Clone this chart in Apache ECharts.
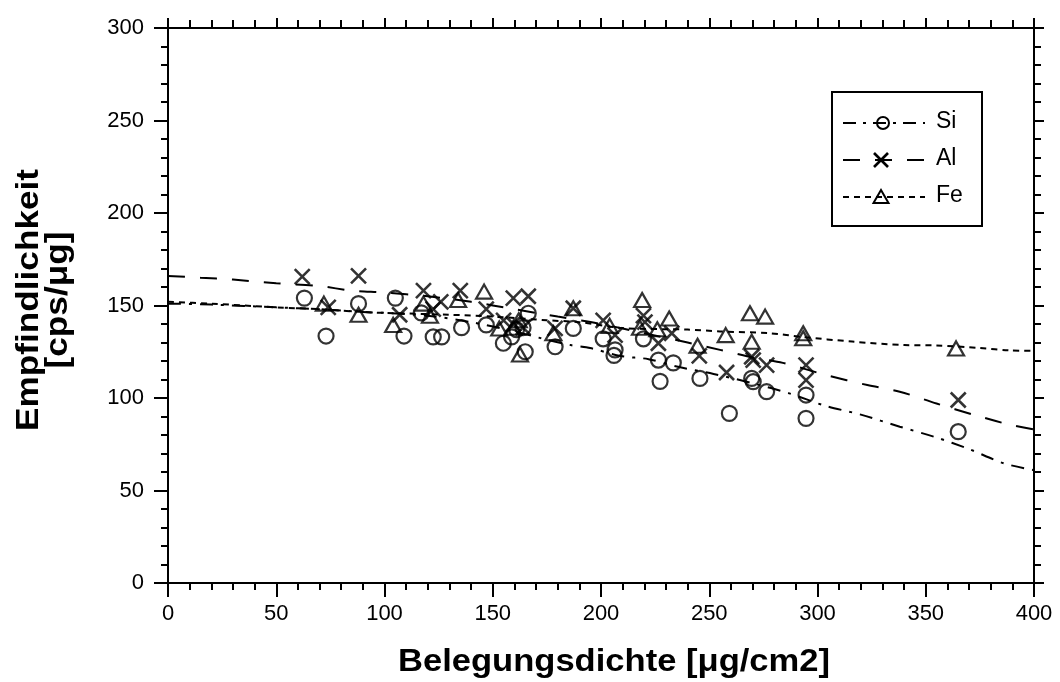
<!DOCTYPE html>
<html>
<head>
<meta charset="utf-8">
<script src="https://cdn.jsdelivr.net/npm/echarts@6/dist/echarts.min.js"></script>
<style>html,body{margin:0;padding:0;background:#fff;}#c{width:1060px;height:682px;}</style>
</head>
<body>
<div id="c"></div>
<script>
// ---- data ----
var xTicks = [0, 50, 100, 150, 200, 250, 300, 350, 400];
var yTicks = [0, 50, 100, 150, 200, 250, 300];

var siPoints = [[63,154],[73,133.5],[88,151],[105,154],[109,133.5],[117,146],[122.5,133],[126.4,133],
  [135.6,138],[147,139.5],[154.9,129.6],[158.7,133],[161,137],[164,138],[165,125],[166.4,145.8],
  [178.8,127.7],[187.2,137.6],[201,132],[206.5,126],[206,123],[219.6,132],[226.5,120.5],[227.3,109],
  [233.4,119],[245.7,110.6],[259.3,91.7],[269.6,110.6],[270.3,108.8],[276.5,103.4],[294.7,101.6],
  [294.7,89],[365,81.8]];
var alPoints = [[62,165.6],[74,149],[88,166],[107,145],[118,158],[122.5,148],[126,152],[135,158],
  [147,148],[155,142],[159.5,154],[159.5,140],[164,138],[166.4,155],[178.8,137.6],[187.2,148.5],
  [201,142],[206.5,134],[219.6,144.5],[220.3,141],[226.5,129.6],[232.7,135],[245.4,122.8],
  [258,113.8],[269.6,122.3],[270.3,120.5],[276.5,117.8],[294.7,117.8],[294.7,109.7],[365,98.9]];
var fePoints = [[72,151],[88,145],[104,139.5],[118,151],[121,144.5],[134,153],[146,157.5],
  [153,137.6],[159.5,138],[162,142],[162.6,123.5],[178,135],[187.2,148.5],[204,139],
  [219,153],[218,138],[226,137.2],[231.5,143],[244.6,128.2],[257.6,134],[268.8,145.8],
  [275.8,144],[269.6,130.4],[293.4,135],[293.4,132.3],[364,126.8]];

// fitted curves as they appear in the reference
var siFit = [[0,151],[20,150.5],[50,149],[70,148],[90,146.5],[100,146],[120,144.5],[140,141],
  [160,136],[172,132.4],[186,128.6],[195,127],[209,122.7],[222,121],[235,117],[252,113],
  [270,108],[287,102.5],[303,96],[320,91],[338,84.5],[354,79],[370,72.4],[386,64.7],[400,61]];
var alFit = [[0,166],[15,165],[30,164],[50,162],[70,160.5],[85,158],[100,157],[120,155],
  [140,152],[160,148],[180,144],[200,140],[220,135],[240,130],[255,126],[270,122],[284,119],
  [304,112.4],[323,107],[338,103.4],[355,97],[372,91],[389,85.5],[400,83]];
var feFit = [[0,152],[20,151],[50,149],[70,148],[90,146.5],[100,146],[130,145],[150,144],
  [175,142],[190,141],[210,137.8],[240,137],[255,136],[278,135],[293,133],[316,130.5],
  [340,128.6],[355,128.4],[375,127],[389,125.7],[400,125.5]];

var legendNames = ['Si', 'Al', 'Fe'];
var xTitle = 'Belegungsdichte [\u03bcg/cm2]';
var yTitleLines = ['Empfindlichkeit', '[cps/\u03bcg]'];

var FONT = '"Liberation Sans", Arial, sans-serif';
var xPath = 'path://M0,0L10,10M10,0L0,10';
var triPath = 'path://M5,0L10,9L0,9Z';

function baseAxis(pos, showLabel, isX) {
  return {
    type: 'value', position: pos, min: 0, max: isX ? 400 : 300, interval: 50,
    axisLine: { show: true, onZero: false, lineStyle: { color: '#000', width: 2 } },
    axisTick: { show: true, inside: false, length: 14, lineStyle: { color: '#000', width: 2 } },
    minorTick: { show: true, splitNumber: 5, length: 7, lineStyle: { color: '#000', width: 2 } },
    splitLine: { show: false },
    axisLabel: { show: showLabel, color: '#000', fontSize: 22, fontFamily: FONT, margin: 20 }
  };
}

var xBottom = baseAxis('bottom', true, true);
var xTop = baseAxis('top', false, true);
xTop.axisTick.length = 10; xTop.minorTick.length = 8;
var yLeft = baseAxis('left', true, false);
yLeft.axisLabel.margin = 24;
var yRight = baseAxis('right', false, false);
yRight.axisTick.length = 10; yRight.minorTick.length = 7;

var chart = echarts.init(document.getElementById('c'), null, { renderer: 'canvas' });

var lineStyleBase = { color: '#000', width: 2 };
var titleFont = 'bold 32px ' + FONT;
var option = {
  backgroundColor: '#fff',
  animation: false,
  grid: { left: 168, right: 26, top: 28, bottom: 99 },
  xAxis: [xBottom, xTop],
  yAxis: [yLeft, yRight],
  series: [
    { name: 'SiFit', type: 'line', data: siFit, showSymbol: false, smooth: 0.3,
      lineStyle: Object.assign({}, lineStyleBase, { type: [13, 8, 3, 8] }) },
    { name: 'AlFit', type: 'line', data: alFit, showSymbol: false, smooth: 0.3,
      lineStyle: Object.assign({}, lineStyleBase, { type: [17, 15] }) },
    { name: 'FeFit', type: 'line', data: feFit, showSymbol: false, smooth: 0.3,
      lineStyle: Object.assign({}, lineStyleBase, { type: [6, 5] }) },
    { name: legendNames[0], type: 'scatter', data: siPoints, symbol: 'circle', symbolSize: 15,
      itemStyle: { color: 'rgba(0,0,0,0)', borderColor: '#000', borderWidth: 2.2 } },
    { name: legendNames[1], type: 'scatter', data: alPoints, symbol: xPath, symbolSize: 15,
      itemStyle: { color: 'rgba(0,0,0,0)', borderColor: '#000', borderWidth: 2.6 } },
    { name: legendNames[2], type: 'scatter', data: fePoints, symbol: triPath, symbolSize: [16, 14],
      itemStyle: { color: 'rgba(0,0,0,0)', borderColor: '#000', borderWidth: 2.2 } }
  ],
  graphic: [
    // axis titles (slightly widened to match reference lettering)
    { type: 'text', x: 614, y: 662, scaleX: 1.08, scaleY: 1,
      style: { text: xTitle, font: titleFont, fill: '#000', textAlign: 'center', textVerticalAlign: 'middle' } },
    { type: 'text', x: 29, y: 300, rotation: Math.PI / 2, scaleX: 1.1, scaleY: 1,
      style: { text: yTitleLines[0], font: titleFont, fill: '#000', textAlign: 'center', textVerticalAlign: 'middle' } },
    { type: 'text', x: 58, y: 300, rotation: Math.PI / 2, scaleX: 1.1, scaleY: 1,
      style: { text: yTitleLines[1], font: titleFont, fill: '#000', textAlign: 'center', textVerticalAlign: 'middle' } },
    // legend
    { type: 'rect', shape: { x: 832, y: 92, width: 150, height: 134 },
      style: { fill: '#fff', stroke: '#000', lineWidth: 2 }, z: 100 },
    { type: 'line', shape: { x1: 843, y1: 123, x2: 925, y2: 123 },
      style: { stroke: '#000', lineWidth: 2, lineDash: [13, 7, 3, 7] }, z: 101 },
    { type: 'circle', shape: { cx: 883, cy: 123, r: 6 },
      style: { fill: 'none', stroke: '#000', lineWidth: 2 }, z: 102 },
    { type: 'text', left: 936, top: 110, style: { text: legendNames[0], fill: '#000', font: '23px ' + FONT }, z: 102 },
    { type: 'line', shape: { x1: 843, y1: 160, x2: 925, y2: 160 },
      style: { stroke: '#000', lineWidth: 2, lineDash: [17, 15] }, z: 101 },
    { type: 'polyline', shape: { points: [[874, 153], [888, 167]] },
      style: { stroke: '#000', lineWidth: 2.6 }, z: 102 },
    { type: 'polyline', shape: { points: [[888, 153], [874, 167]] },
      style: { stroke: '#000', lineWidth: 2.6 }, z: 102 },
    { type: 'text', left: 936, top: 147, style: { text: legendNames[1], fill: '#000', font: '23px ' + FONT }, z: 102 },
    { type: 'line', shape: { x1: 843, y1: 197, x2: 925, y2: 197 },
      style: { stroke: '#000', lineWidth: 2, lineDash: [6, 5] }, z: 101 },
    { type: 'polygon', shape: { points: [[881, 190], [888.5, 203], [873.5, 203]] },
      style: { fill: 'none', stroke: '#000', lineWidth: 2 }, z: 102 },
    { type: 'text', left: 936, top: 184, style: { text: legendNames[2], fill: '#000', font: '23px ' + FONT }, z: 102 }
  ]
};
chart.setOption(option);
</script>
</body>
</html>
